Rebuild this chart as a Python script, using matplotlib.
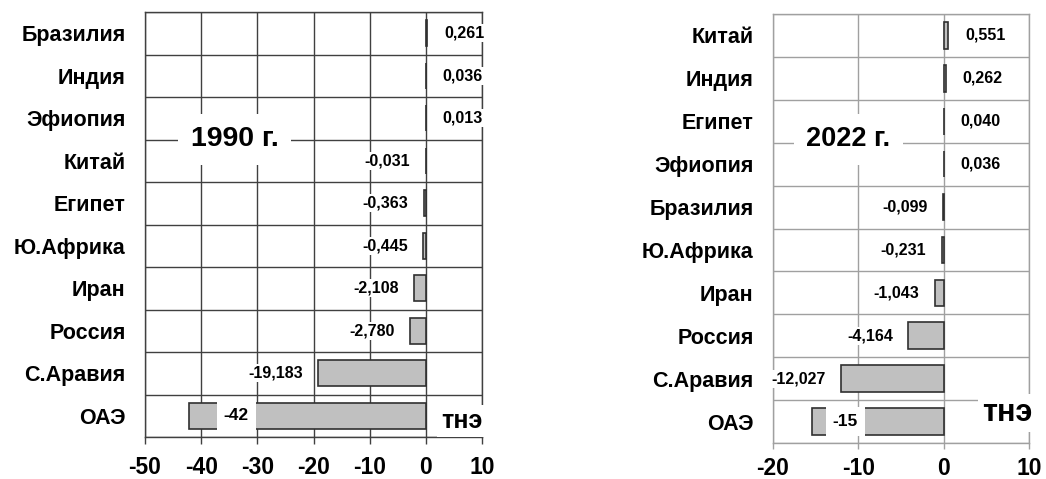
import numpy as np
import matplotlib.pyplot as plt

plt.rcParams["font.family"] = ["Liberation Sans", "DejaVu Sans"]
plt.rcParams["font.weight"] = "bold"

countries_1990 = ["Бразилия", "Индия", "Эфиопия", "Китай", "Египет",
                  "Ю.Африка", "Иран", "Россия", "С.Аравия", "ОАЭ"]
values_1990 = [0.261, 0.036, 0.013, -0.031, -0.363, -0.445, -2.108, -2.780, -19.183, -42.2]
labels_1990 = ["0,261", "0,036", "0,013", "-0,031", "-0,363", "-0,445",
               "-2,108", "-2,780", "-19,183", "-42"]

countries_2022 = ["Китай", "Индия", "Египет", "Эфиопия", "Бразилия",
                  "Ю.Африка", "Иран", "Россия", "С.Аравия", "ОАЭ"]
values_2022 = [0.551, 0.262, 0.040, 0.036, -0.099, -0.231, -1.043, -4.164, -12.027, -15.4]
labels_2022 = ["0,551", "0,262", "0,040", "0,036", "-0,099", "-0,231",
               "-1,043", "-4,164", "-12,027", "-15"]

W, H = 1046, 479
fig = plt.figure(figsize=(W / 100, H / 100), dpi=100)


def panel(rect, names, vals, labs, xlim, xticks, title, title_xy, title_size,
          grid_col, inner_frac, unit_xy, unit_size, tick_len, tick_pad):
    ax = fig.add_axes([rect[0] / W, 1 - rect[3] / H, (rect[2] - rect[0]) / W,
                       (rect[3] - rect[1]) / H])
    n = len(names)
    y = np.arange(n)
    ax.barh(y, vals, height=0.62, color="#c0c0c0", edgecolor="#303030",
            linewidth=1.2, zorder=3)
    ax.set_xlim(*xlim)
    ax.set_ylim(n - 0.5, -0.5)
    ax.set_xticks(xticks)
    ax.set_xticklabels([str(t) for t in xticks], fontsize=16.5, fontweight="bold")
    ax.set_yticks(y)
    ax.set_yticklabels(names, fontsize=15.5, fontweight="bold")
    ax.tick_params(axis="y", length=0, pad=14)
    ax.tick_params(axis="x", length=tick_len, width=1, color=grid_col,
                   pad=tick_pad, direction="out")
    # grid: vertical at ticks, horizontal between categories
    for t in xticks:
        ax.axvline(t, color=grid_col, lw=1, zorder=1)
    for b in np.arange(n + 1) - 0.5:
        ax.axhline(b, color=grid_col, lw=1, zorder=1)
    for s in ax.spines.values():
        s.set_color(grid_col)
        s.set_linewidth(1)
    for i, (v, lab) in enumerate(zip(vals, labs)):
        if i == n - 1:
            ax.text(v * inner_frac, i, lab, ha="center", va="center", fontsize=12.5,
                    fontweight="bold", zorder=5,
                    bbox=dict(facecolor="white", edgecolor="none", pad=5))
        elif v >= 0:
            ax.annotate(lab, (v, i), xytext=(12, 0), textcoords="offset points",
                        ha="left", va="center", fontsize=11.5, fontweight="bold",
                        zorder=5, annotation_clip=False,
                        bbox=dict(facecolor="white", edgecolor="none", pad=1))
        else:
            ax.annotate(lab, (v, i), xytext=(-11, 0), textcoords="offset points",
                        ha="right", va="center", fontsize=11.5, fontweight="bold",
                        zorder=5, annotation_clip=False,
                        bbox=dict(facecolor="white", edgecolor="none", pad=1))
    ax.text(title_xy[0], title_xy[1], title, ha="center", va="center",
            fontsize=title_size, fontweight="bold", zorder=6,
            bbox=dict(facecolor="white", edgecolor="none", pad=9))
    ax.text(unit_xy[0], unit_xy[1], "тнэ", transform=ax.transAxes, ha="center",
            va="center", fontsize=unit_size, fontweight="bold", zorder=6,
            clip_on=False, bbox=dict(facecolor="white", edgecolor="none", pad=3))
    return ax


panel((145, 12, 482, 437), countries_1990, values_1990, labels_1990,
      (-50, 10), [-50, -40, -30, -20, -10, 0, 10], "1990 г.", (-34, 2.5), 20.5,
      "#404040", 0.8, (0.94, 0.038), 18, 5, 9)
panel((773, 14, 1029, 443), countries_2022, values_2022, labels_2022,
      (-20, 10), [-20, -10, 0, 10], "2022 г.", (-11.2, 2.42), 19.5,
      "#a0a0a0", 0.75, (0.914, 0.07), 22, 4, 6)

fig.savefig("out.png", dpi=100)
